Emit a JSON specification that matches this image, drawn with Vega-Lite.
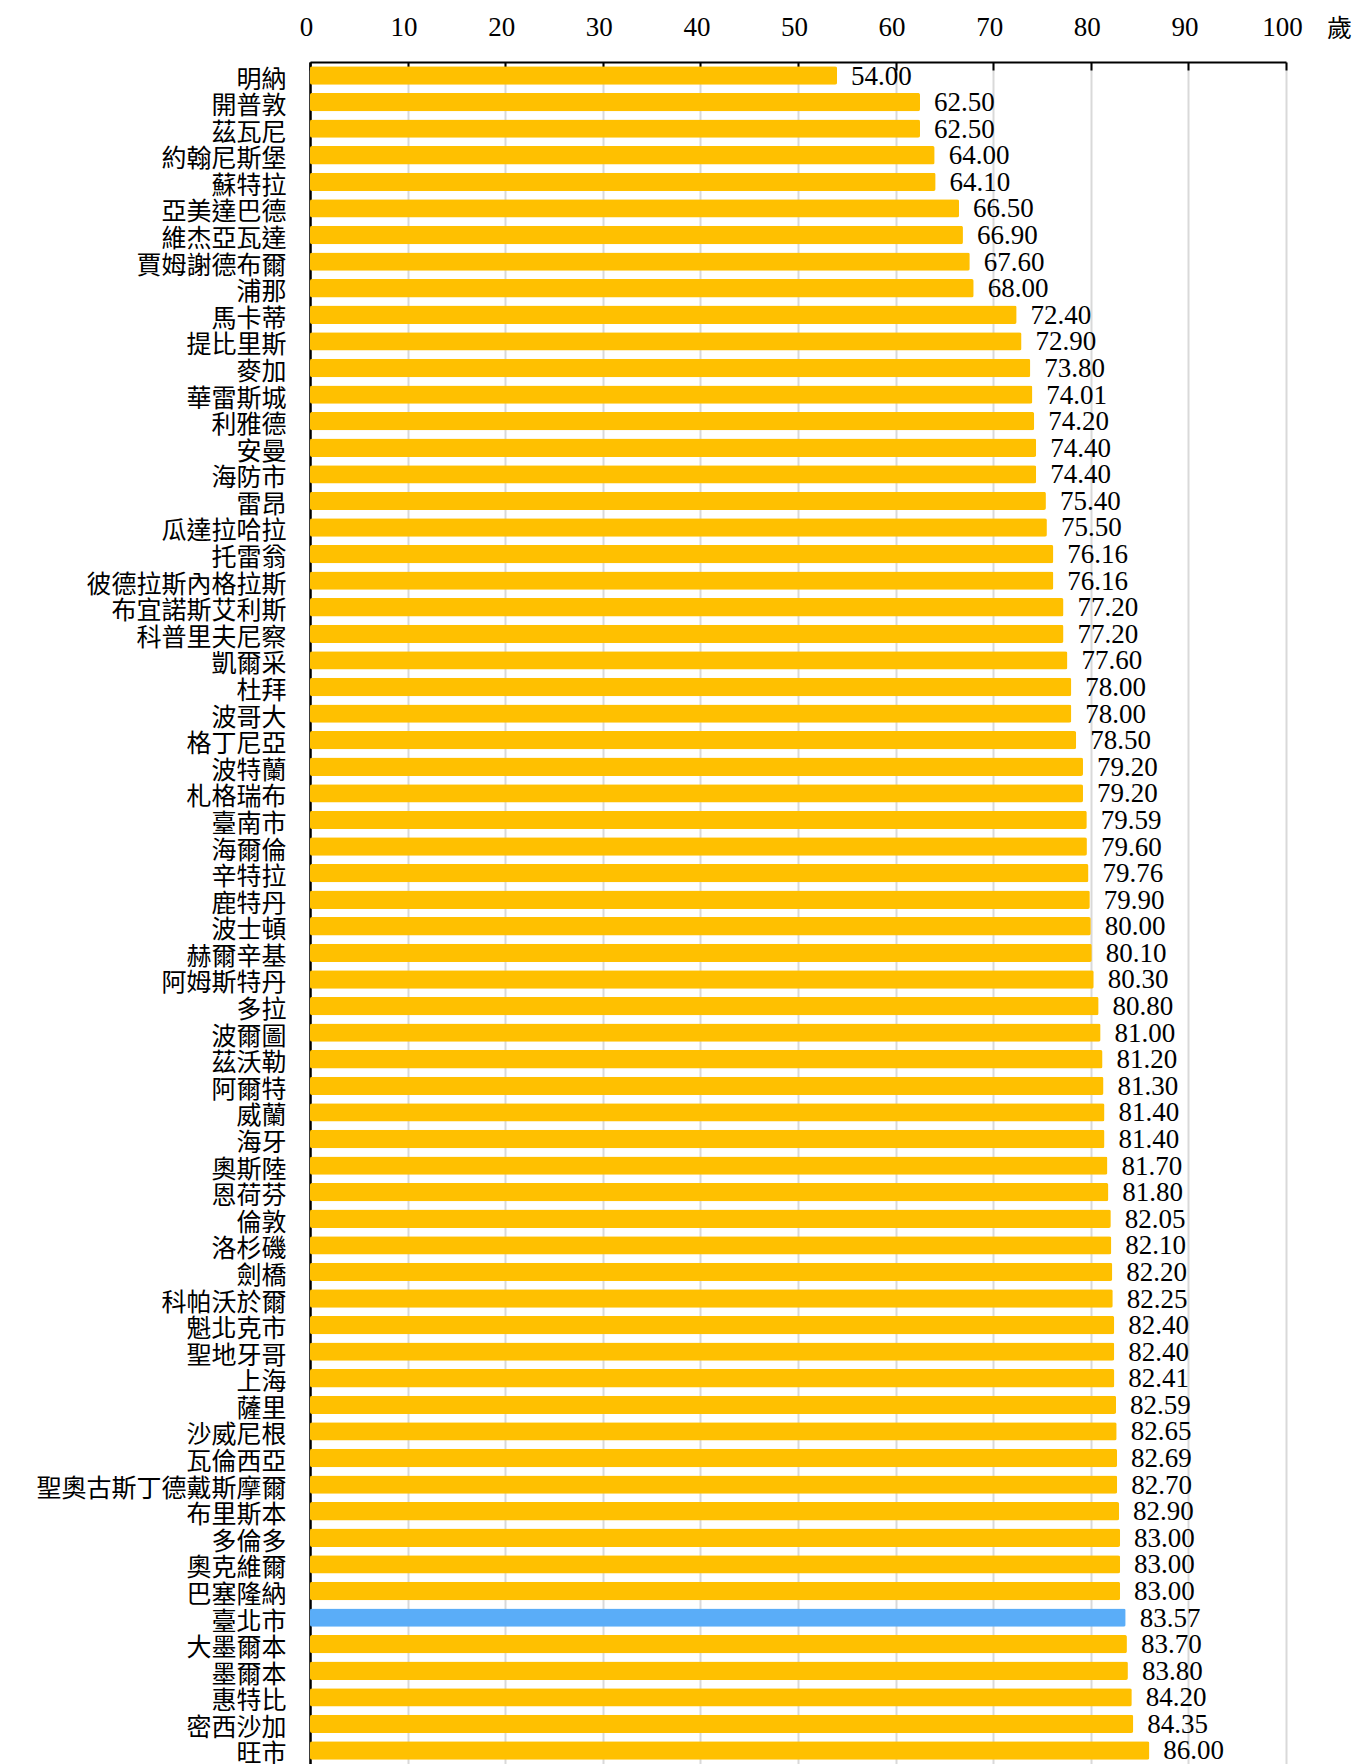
{
  "$schema": "https://vega.github.io/schema/vega-lite/v6.json",
  "autosize": {"type": "none"},
  "padding": {"left": 310, "top": 62, "right": 69, "bottom": 0},
  "width": 976,
  "height": 1702,
  "background": "white",
  "config": {"view": {"stroke": null}},
  "data": {"values": [
    {"city": "明納", "age": 54.00},
    {"city": "開普敦", "age": 62.50},
    {"city": "茲瓦尼", "age": 62.50},
    {"city": "約翰尼斯堡", "age": 64.00},
    {"city": "蘇特拉", "age": 64.10},
    {"city": "亞美達巴德", "age": 66.50},
    {"city": "維杰亞瓦達", "age": 66.90},
    {"city": "賈姆謝德布爾", "age": 67.60},
    {"city": "浦那", "age": 68.00},
    {"city": "馬卡蒂", "age": 72.40},
    {"city": "提比里斯", "age": 72.90},
    {"city": "麥加", "age": 73.80},
    {"city": "華雷斯城", "age": 74.01},
    {"city": "利雅德", "age": 74.20},
    {"city": "安曼", "age": 74.40},
    {"city": "海防市", "age": 74.40},
    {"city": "雷昂", "age": 75.40},
    {"city": "瓜達拉哈拉", "age": 75.50},
    {"city": "托雷翁", "age": 76.16},
    {"city": "彼德拉斯內格拉斯", "age": 76.16},
    {"city": "布宜諾斯艾利斯", "age": 77.20},
    {"city": "科普里夫尼察", "age": 77.20},
    {"city": "凱爾采", "age": 77.60},
    {"city": "杜拜", "age": 78.00},
    {"city": "波哥大", "age": 78.00},
    {"city": "格丁尼亞", "age": 78.50},
    {"city": "波特蘭", "age": 79.20},
    {"city": "札格瑞布", "age": 79.20},
    {"city": "臺南市", "age": 79.59},
    {"city": "海爾倫", "age": 79.60},
    {"city": "辛特拉", "age": 79.76},
    {"city": "鹿特丹", "age": 79.90},
    {"city": "波士頓", "age": 80.00},
    {"city": "赫爾辛基", "age": 80.10},
    {"city": "阿姆斯特丹", "age": 80.30},
    {"city": "多拉", "age": 80.80},
    {"city": "波爾圖", "age": 81.00},
    {"city": "茲沃勒", "age": 81.20},
    {"city": "阿爾特", "age": 81.30},
    {"city": "威蘭", "age": 81.40},
    {"city": "海牙", "age": 81.40},
    {"city": "奧斯陸", "age": 81.70},
    {"city": "恩荷芬", "age": 81.80},
    {"city": "倫敦", "age": 82.05},
    {"city": "洛杉磯", "age": 82.10},
    {"city": "劍橋", "age": 82.20},
    {"city": "科帕沃於爾", "age": 82.25},
    {"city": "魁北克市", "age": 82.40},
    {"city": "聖地牙哥", "age": 82.40},
    {"city": "上海", "age": 82.41},
    {"city": "薩里", "age": 82.59},
    {"city": "沙威尼根", "age": 82.65},
    {"city": "瓦倫西亞", "age": 82.69},
    {"city": "聖奧古斯丁德戴斯摩爾", "age": 82.70},
    {"city": "布里斯本", "age": 82.90},
    {"city": "多倫多", "age": 83.00},
    {"city": "奧克維爾", "age": 83.00},
    {"city": "巴塞隆納", "age": 83.00},
    {"city": "臺北市", "age": 83.57},
    {"city": "大墨爾本", "age": 83.70},
    {"city": "墨爾本", "age": 83.80},
    {"city": "惠特比", "age": 84.20},
    {"city": "密西沙加", "age": 84.35},
    {"city": "旺市", "age": 86.00}
  ]},
  "encoding": {
    "y": {
      "field": "city", "type": "nominal", "sort": null,
      "scale": {"paddingInner": 0.31, "paddingOuter": 0.163},
      "axis": {
        "title": null, "ticks": false, "grid": false,
        "domain": true, "domainColor": "#000000", "domainWidth": 2.5,
        "labelFont": "Noto Sans CJK TC", "labelFontSize": 25, "labelColor": "#000000",
        "labelPadding": 24, "labelOffset": 4, "labelLimit": 400
      }
    },
    "x": {
      "field": "age", "type": "quantitative",
      "scale": {"domain": [0, 100], "nice": false},
      "axis": {
        "orient": "top", "values": [0, 10, 20, 30, 40, 50, 60, 70, 80, 90, 100],
        "domain": true, "domainColor": "#000000", "domainWidth": 2,
        "ticks": true, "tickColor": "#000000", "tickWidth": 2, "tickSize": -8,
        "grid": true, "gridColor": "#d9d9d9", "gridWidth": 2,
        "labelFont": "Liberation Serif", "labelFontSize": 27, "labelColor": "#000000",
        "labelBaseline": "alphabetic", "labelPadding": 35, "labelFlush": false, "labelOffset": -4,
        "title": "歲", "titleFont": "Noto Sans CJK TC", "titleFontSize": 25,
        "titleFontWeight": "normal", "titleColor": "#000000",
        "titleX": 1029, "titleY": -34, "titleAlign": "center", "titleBaseline": "middle", "titleAngle": 0
      }
    }
  },
  "layer": [
    {
      "mark": {"type": "bar", "cornerRadius": 2},
      "encoding": {
        "color": {
          "condition": {"test": "datum.city === '臺北市'", "value": "#5AADF8"},
          "value": "#FFC000"
        }
      }
    },
    {
      "mark": {"type": "text", "align": "left", "baseline": "middle", "dx": 14, "dy": 1,
               "font": "Liberation Serif", "fontSize": 27, "color": "#000000"},
      "encoding": {
        "text": {"field": "age", "type": "quantitative", "format": ".2f"}
      }
    }
  ]
}
